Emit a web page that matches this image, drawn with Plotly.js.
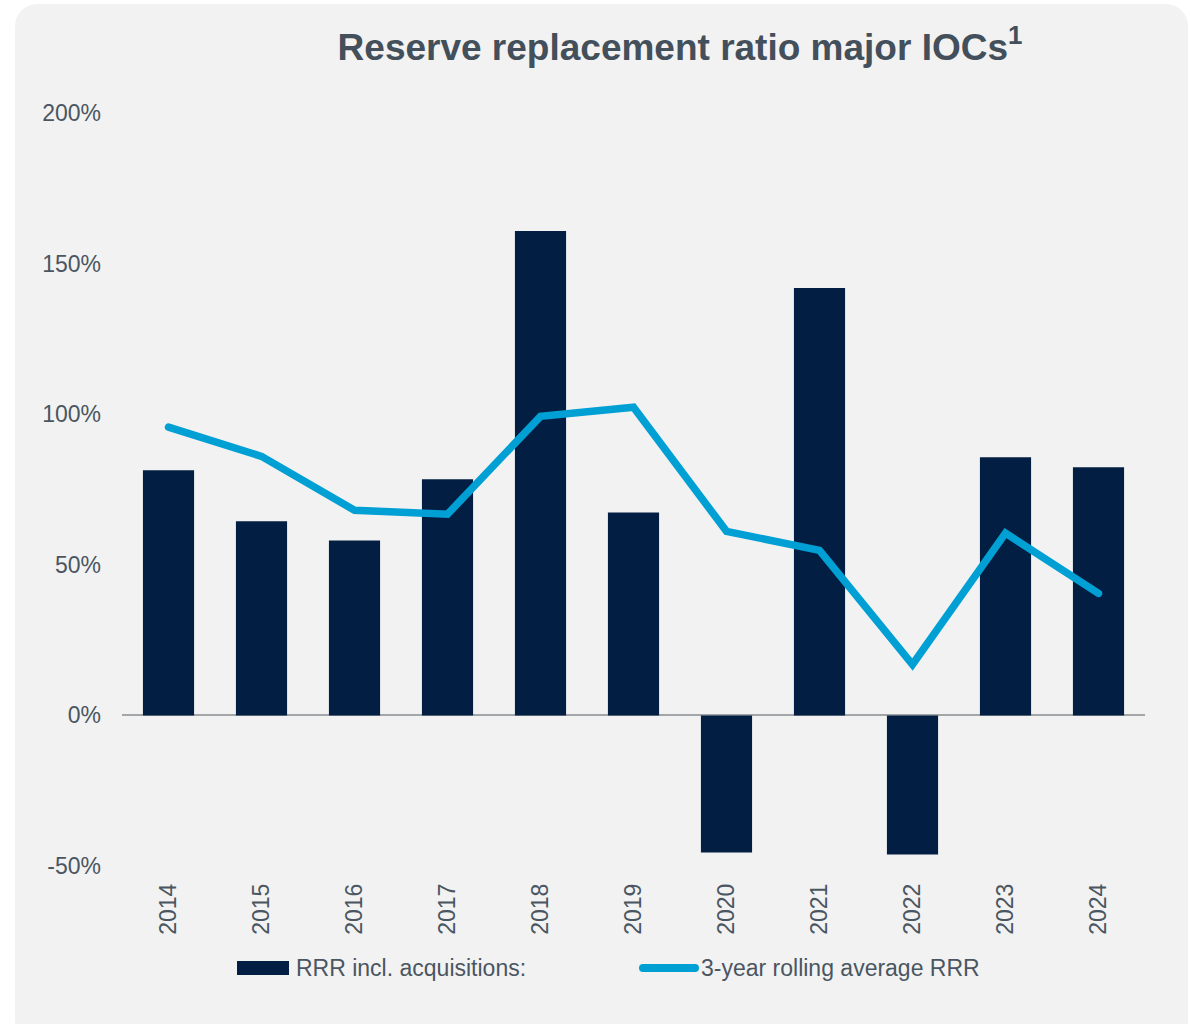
<!DOCTYPE html>
<html>
<head>
<meta charset="utf-8">
<script src="https://cdn.plot.ly/plotly-3.0.1.min.js"></script>
<style>
  html, body { margin: 0; padding: 0; background: #ffffff; width: 1190px; height: 1024px; overflow: hidden; }
  #card { position: absolute; left: 15px; top: 4px; width: 1173px; height: 1040px; border-radius: 22px; background: #f2f2f2; }
  #chart { position: absolute; left: 0; top: 0; width: 1190px; height: 1024px; }
</style>
</head>
<body>
<div id="card"></div>
<div id="chart"></div>
<script>
const years = ['2014','2015','2016','2017','2018','2019','2020','2021','2022','2023','2024'];
const rrrInclAcq = [0.814, 0.645, 0.581, 0.784, 1.608, 0.674, -0.455, 1.419, -0.462, 0.857, 0.824];
const rollingAvg = [0.957, 0.860, 0.681, 0.668, 0.993, 1.023, 0.611, 0.548, 0.169, 0.605, 0.405];
const yTickVals = [-0.5, 0, 0.5, 1, 1.5, 2];
const yTickText = ['-50%', '0%', '50%', '100%', '150%', '200%'];
const seriesNames = ['RRR incl. acquisitions:', '3-year rolling average RRR'];
const chartTitle = 'Reserve replacement ratio major IOCs<sup>1</sup>';

const textColor = '#4a5661';
const barColor = '#021e42';
const lineColor = '#00a0d4';
const fontFamily = '"Liberation Sans", Arial, sans-serif';

const traces = [
  { type: 'bar', x: years, y: rrrInclAcq, name: seriesNames[0], marker: { color: barColor }, width: 0.55, showlegend: false },
  { type: 'scatter', mode: 'lines', x: years, y: rollingAvg, name: seriesNames[1], line: { color: lineColor, width: 7.5 }, showlegend: false }
];

const layout = {
  width: 1190, height: 1024,
  paper_bgcolor: 'rgba(0,0,0,0)', plot_bgcolor: 'rgba(0,0,0,0)',
  margin: { l: 122, r: 45, t: 113, b: 158 },
  font: { family: fontFamily, color: textColor, size: 23 },
  title: { text: chartTitle, xref: 'container', yref: 'container', x: 680/1190, xanchor: 'center', y: 1 - 47/1024, yanchor: 'middle',
           font: { family: fontFamily, size: 37, weight: 'bold', color: '#434f5a' } },
  xaxis: { type: 'category', range: [-0.5, 10.5], showgrid: false, showline: false, zeroline: false, ticks: '', tickangle: -90,
           ticklabelstandoff: 12, tickfont: { size: 23, color: textColor } },
  yaxis: { range: [-0.5, 2.0], tickmode: 'array', tickvals: yTickVals, ticktext: yTickText, showgrid: false, showline: false, ticks: '',
           zeroline: true, zerolinecolor: '#a3a6a9', zerolinewidth: 2, ticklabelstandoff: 20, tickfont: { size: 23, color: textColor } },
  showlegend: false,
  shapes: [
    { type: 'rect', xref: 'paper', yref: 'paper', x0: (237-122)/1023, x1: (289-122)/1023, y0: (866-975)/753, y1: (866-961)/753,
      fillcolor: barColor, line: { width: 0 } },
    { type: 'line', xref: 'paper', yref: 'paper', x0: (643-122)/1023, x1: (695-122)/1023, y0: (866-968)/753, y1: (866-968)/753,
      line: { color: lineColor, width: 8 } }
  ],
  annotations: [
    { xref: 'paper', yref: 'paper', x: (294-122)/1023, y: (866-968)/753, xanchor: 'left', yanchor: 'middle', showarrow: false,
      text: seriesNames[0], font: { size: 23, color: textColor } },
    { xref: 'paper', yref: 'paper', x: (699-122)/1023, y: (866-968)/753, xanchor: 'left', yanchor: 'middle', showarrow: false,
      text: seriesNames[1], font: { size: 23, color: textColor } }
  ]
};

Plotly.newPlot('chart', traces, layout, { displayModeBar: false, staticPlot: true }).then(function () {
  document.querySelectorAll('.scatterlayer path.js-line').forEach(function (p) {
    p.style.strokeLinecap = 'round';
    p.style.strokeLinejoin = 'miter';
  });
  document.querySelectorAll('.shapelayer path').forEach(function (p) {
    p.style.strokeLinecap = 'round';
  });
});
</script>
</body>
</html>
